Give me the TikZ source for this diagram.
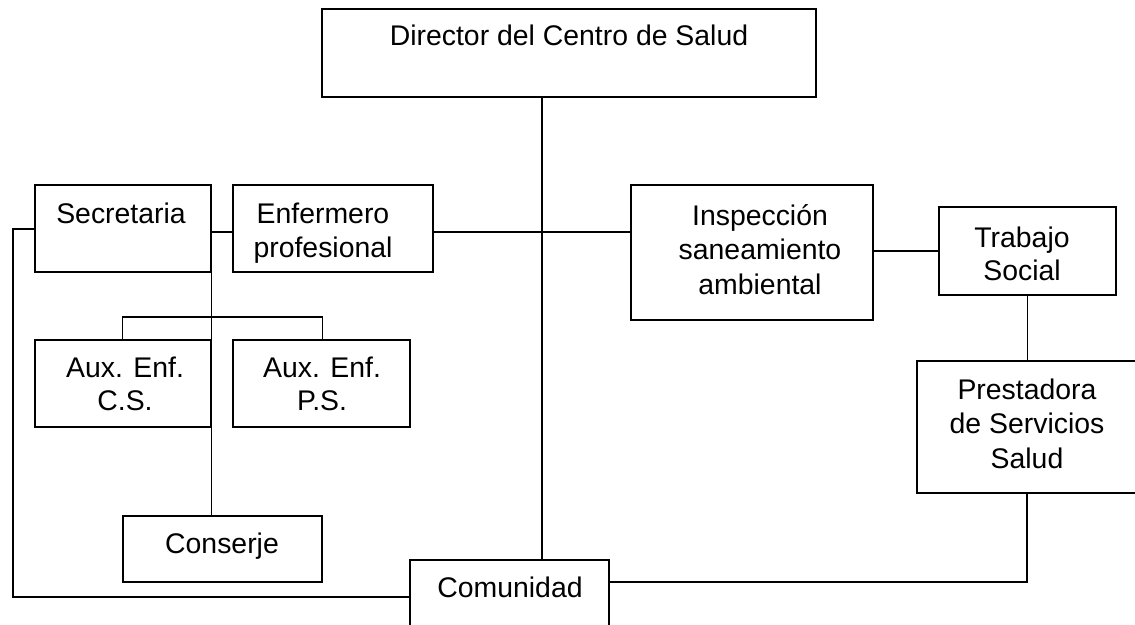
\documentclass[tikz,border=0pt]{standalone}
\usepackage{fontspec}
\setmainfont{Liberation Sans}
\begin{document}
\begin{tikzpicture}[x=1pt,y=-1pt,
  box/.style={draw, line width=1.3pt, inner sep=0pt},
  lbl/.style={font=\fontsize{28.4}{34.5}\selectfont, align=center, anchor=base, inner sep=0pt},
  conn/.style={line width=1.3pt}]
\useasboundingbox (0,0) rectangle (1135,624);
\clip (0,0) rectangle (1135,624);
% boxes
\node[box, minimum width=494pt, minimum height=88pt] (dir) at (569,53) {};
\node[box, minimum width=176pt, minimum height=87pt] (sec) at (123,228.5) {};
\node[box, minimum width=200pt, minimum height=87pt] (enf) at (333,228.5) {};
\node[box, minimum width=242pt, minimum height=135pt] (ins) at (752,252.5) {};
\node[box, minimum width=177pt, minimum height=88pt] (ts) at (1027.5,251) {};
\node[box, minimum width=220pt, minimum height=132pt] (pre) at (1027,427) {};
\node[box, minimum width=176pt, minimum height=87pt] (acs) at (123,383.5) {};
\node[box, minimum width=177pt, minimum height=87pt] (aps) at (321.5,383.5) {};
\node[box, minimum width=199pt, minimum height=66pt] (con) at (222.5,549) {};
\node[box, minimum width=199pt, minimum height=90pt] (com) at (509.5,605) {};
% labels (anchor = baseline of last line)
\node[lbl] (tdir) at (569,45) {Director del Centro de Salud};
\node[lbl] (tsec) at (121,223) {Secretaria};
\node[lbl] (tenf) at (323,257.5) {Enfermero\\profesional};
\node[lbl] (tins) at (760,294) {Inspección\\saneamiento\\ambiental};
\node[lbl, font=\fontsize{28.4}{33}\selectfont] (tts) at (1022,280) {Trabajo\\Social};
\node[lbl] (tpre) at (1027,468) {Prestadora\\de Servicios\\Salud};
\node[lbl, font=\fontsize{28.4}{33.5}\selectfont] (tacs) at (125,410.5) {Aux. Enf.\\C.S.};
\node[lbl, font=\fontsize{28.4}{33.5}\selectfont] (taps) at (322,410.5) {Aux. Enf.\\P.S.};
\node[lbl] (tcon) at (222,553) {Conserje};
\node[lbl] (tcom) at (510,597) {Comunidad};
% helper coordinates
\coordinate (vx) at (542,0);
\coordinate (h1) at (0,232);
\coordinate (rb) at (1027,582);
\coordinate (lx) at (13,229);
\coordinate (ly) at (13,597);
\coordinate (bk) at (0,317);
% connectors
\draw[conn] (vx |- dir.south) -- (vx |- com.north);
\draw[conn] (enf.east |- h1) -- (ins.west |- h1);
\draw[conn] (sec.east |- h1) -- (enf.west |- h1);
\draw[conn] (ins.east |- ts.west) -- (ts.west);
\draw[conn] (ts.south) -- (ts.south |- pre.north);
\draw[conn] (pre.south -| rb) -- (rb) -- (com.east |- rb);
\draw[conn] (sec.west |- lx) -- (lx) -- (ly) -- (com.west |- ly);
\draw[conn] (sec.south east) -- (sec.east |- con.north);
\draw[conn] (acs.north -| con.west) -- (con.west |- bk) -- (con.east |- bk) -- (aps.north -| con.east);
\end{tikzpicture}
\end{document}
